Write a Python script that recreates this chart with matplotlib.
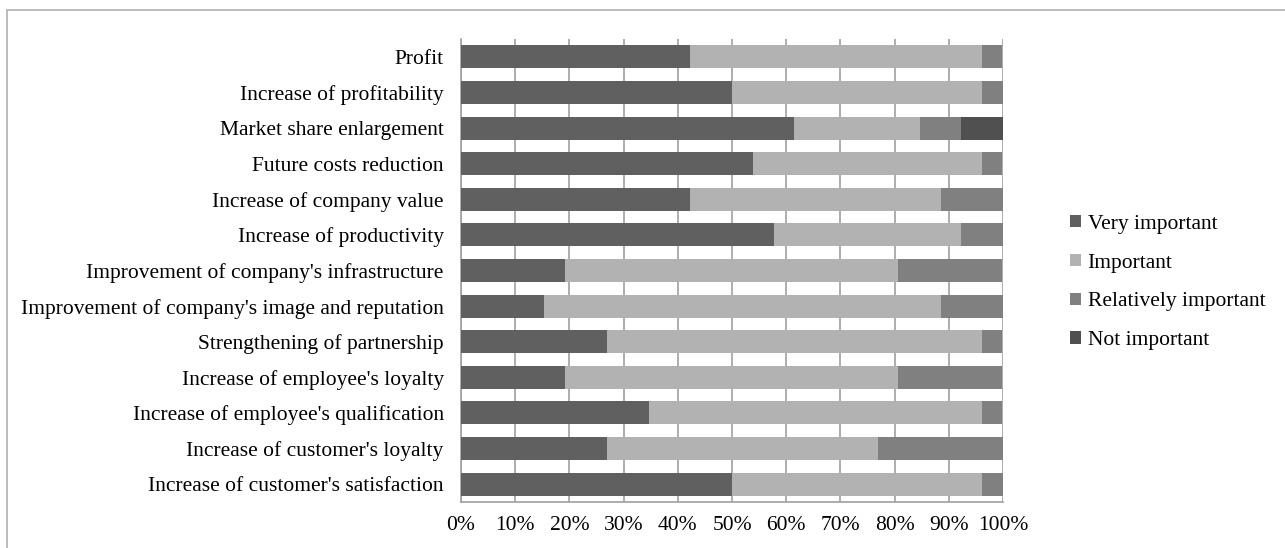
import matplotlib.pyplot as plt
from matplotlib.patches import Rectangle
from matplotlib.ticker import FuncFormatter

plt.rcParams['font.family'] = ['Liberation Serif', 'DejaVu Serif']

categories = ["Profit", "Increase of profitability", "Market share enlargement",
              "Future costs reduction", "Increase of company value",
              "Increase of productivity", "Improvement of company's infrastructure",
              "Improvement of company's image and reputation",
              "Strengthening of partnership", "Increase of employee's loyalty",
              "Increase of employee's qualification", "Increase of customer's loyalty",
              "Increase of customer's satisfaction"]

# answer shares in percent (26 respondents)
very_important = [42.3, 50.0, 61.5, 53.8, 42.3, 57.7, 19.2, 15.4, 26.9, 19.2, 34.6, 26.9, 50.0]
important = [53.8, 46.2, 23.1, 42.3, 46.2, 34.6, 61.5, 73.1, 69.2, 61.5, 61.5, 50.0, 46.2]
relatively_important = [3.8, 3.8, 7.7, 3.8, 11.5, 7.7, 19.2, 11.5, 3.8, 19.2, 3.8, 23.1, 3.8]
not_important = [0, 0, 7.7, 0, 0, 0, 0, 0, 0, 0, 0, 0, 0]

series = [("Very important", very_important, "#606060"),
          ("Important", important, "#b2b2b2"),
          ("Relatively important", relatively_important, "#808080"),
          ("Not important", not_important, "#505050")]

fig = plt.figure(figsize=(12.85, 5.48), dpi=100)
ax = fig.add_axes([461/1285, 46/548, 542/1285, 463/548])

ypos = list(range(len(categories)))[::-1]
left = [0] * len(categories)
for name, vals, col in series:
    ax.barh(ypos, vals, left=left, height=0.645, color=col, label=name, zorder=3)
    left = [a + b for a, b in zip(left, vals)]

ax.set_xlim(0, 100)
ax.set_ylim(-0.5, 12.5)
ax.set_xticks(range(0, 101, 10))
ax.xaxis.set_major_formatter(FuncFormatter(lambda v, p: "%d%%" % v))
ax.set_yticks(ypos)
ax.set_yticklabels(categories)
ax.tick_params(axis='both', labelsize=15.5, length=0, colors='black')
ax.tick_params(axis='x', pad=10)
ax.tick_params(axis='y', pad=12.5)
ax.grid(axis='x', color='#a0a0a0', linewidth=1.2, zorder=0)
for s in ['top', 'right']:
    ax.spines[s].set_visible(False)
ax.spines['left'].set_color('#a0a0a0')
ax.spines['bottom'].set_color('#a0a0a0')
ax.spines['left'].set_linewidth(1.2)
ax.spines['bottom'].set_linewidth(1.2)

leg = ax.legend(loc='center left', bbox_to_anchor=(1051/1285, (548 - 282.5)/548),
                bbox_transform=fig.transFigure, frameon=False, fontsize=15.5,
                handlelength=0.5, handleheight=0.5, handletextpad=0.3,
                labelspacing=0.92)

# chart border
fig.patches.append(Rectangle((7/1285, -0.1), 1.2, 1 - 10/548 + 0.1,
                             transform=fig.transFigure, fill=False,
                             edgecolor='#b0b0b0', linewidth=1.2))

fig.savefig("out.png", dpi=100)
